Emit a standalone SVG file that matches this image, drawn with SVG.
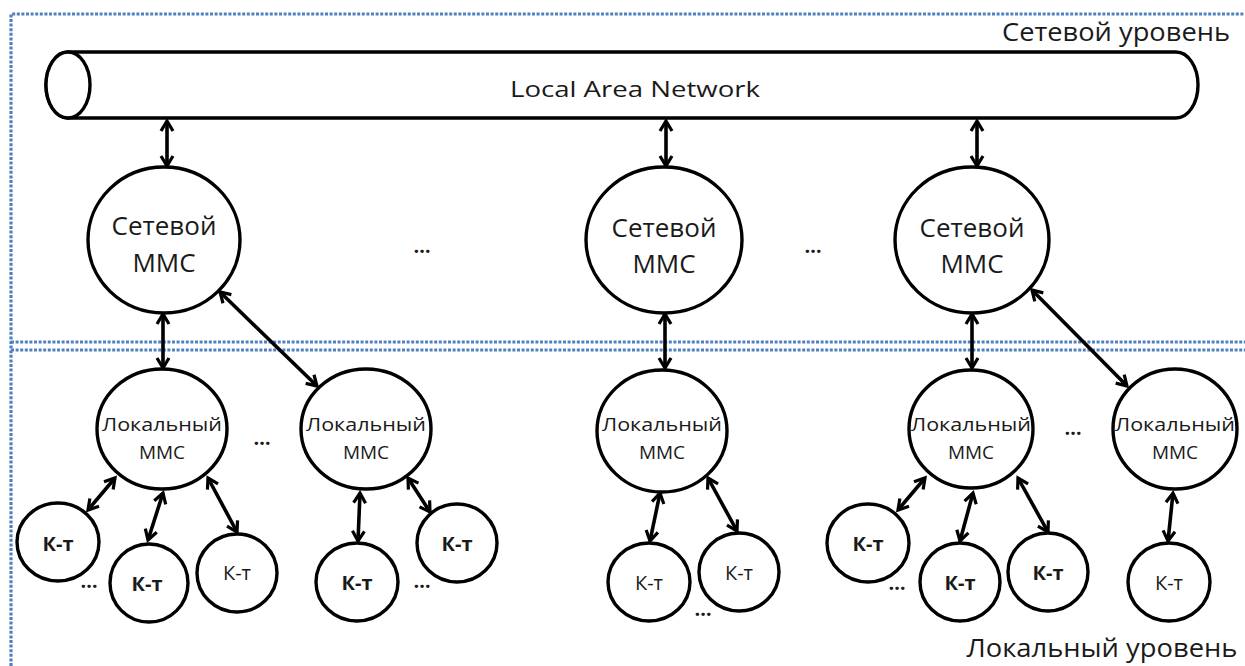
<svg xmlns="http://www.w3.org/2000/svg" width="1245" height="666" viewBox="0 0 1245 666">
  <style>
    .zone { fill: none; stroke: #4f81bd; stroke-width: 3.2; stroke-dasharray: 3 1.6; }
    .node { fill: #ffffff; stroke: #000000; stroke-width: 3.4; }
    .link { fill: none; stroke: #000000; stroke-width: 3.6; marker-start: url(#head); marker-end: url(#head); }
    text { font-family: "Open Sans", "Liberation Sans", sans-serif; fill: #1a1a1a; text-anchor: middle; dominant-baseline: central; }
    .lvl { font-size: 25px; }
    .lan { font-size: 22px; }
    .net { font-size: 26px; }
    .loc { font-size: 19px; }
    .kt { font-size: 20px; }
    .ktb { font-size: 20px; font-weight: bold; }
    .dots { font-size: 20px; font-weight: bold; }
  </style>
  <defs>
    <marker id="head" viewBox="0 0 16 16" refX="13" refY="8" markerWidth="16" markerHeight="16" markerUnits="userSpaceOnUse" orient="auto-start-reverse">
      <path d="M3 2 L13 8 L3 14" fill="none" stroke="#000" stroke-width="3.2" stroke-linejoin="miter"/>
    </marker>
  </defs>

  <rect width="1245" height="666" fill="#ffffff"/>

  <!-- level boundaries -->
  <g id="levels">
    <path class="zone" d="M11 666 V14 H1245"/>
    <path class="zone" d="M11 342 H1245"/>
    <path class="zone" d="M11 350 H1245"/>
    <text class="lvl" x="1116" y="31" textLength="228" lengthAdjust="spacingAndGlyphs">Сетевой уровень</text>
    <text class="lvl" x="1102" y="647" textLength="271" lengthAdjust="spacingAndGlyphs">Локальный уровень</text>
  </g>

  <!-- network bus -->
  <g id="lan">
    <path class="node" d="M68 52 H1176 A22 33 0 0 1 1176 118 H68 A22 33 0 0 1 68 52 Z"/>
    <ellipse class="node" cx="68" cy="85" rx="22" ry="33"/>
    <text class="lan" x="635" y="88" textLength="250" lengthAdjust="spacingAndGlyphs">Local Area Network</text>
  </g>

  <!-- connectors -->
  <g id="connectors">
    <line class="link" x1="167" y1="121" x2="167" y2="166"/>
    <line class="link" x1="666" y1="121" x2="666" y2="166"/>
    <line class="link" x1="977" y1="121" x2="977" y2="166"/>

    <line class="link" x1="163" y1="314" x2="163" y2="368"/>
    <line class="link" x1="220" y1="292" x2="317" y2="386"/>
    <line class="link" x1="665" y1="314" x2="665" y2="368"/>
    <line class="link" x1="972" y1="314" x2="972" y2="368"/>
    <line class="link" x1="1032" y1="290" x2="1127" y2="386"/>

    <line class="link" x1="115" y1="478" x2="88" y2="510"/>
    <line class="link" x1="163" y1="493" x2="148" y2="540"/>
    <line class="link" x1="208" y1="478" x2="237" y2="532"/>
    <line class="link" x1="360" y1="493" x2="358" y2="541"/>
    <line class="link" x1="408" y1="478" x2="430" y2="512"/>

    <line class="link" x1="660" y1="493" x2="650" y2="541"/>
    <line class="link" x1="708" y1="478" x2="737" y2="531"/>

    <line class="link" x1="925" y1="478" x2="898" y2="510"/>
    <line class="link" x1="973" y1="493" x2="960" y2="541"/>
    <line class="link" x1="1018" y1="478" x2="1048" y2="532"/>
    <line class="link" x1="1173" y1="493" x2="1168" y2="541"/>
  </g>

  <!-- network-level nodes -->
  <g id="net-1">
    <ellipse class="node" cx="164" cy="240" rx="76" ry="73"/>
    <text class="net" x="164" y="225">Сетевой</text>
    <text class="net" x="164" y="262">ММС</text>
  </g>
  <g id="net-2">
    <ellipse class="node" cx="664" cy="240" rx="78" ry="73"/>
    <text class="net" x="664" y="227">Сетевой</text>
    <text class="net" x="664" y="263">ММС</text>
  </g>
  <g id="net-3">
    <ellipse class="node" cx="972" cy="240" rx="77" ry="73"/>
    <text class="net" x="972" y="227">Сетевой</text>
    <text class="net" x="972" y="263">ММС</text>
  </g>
  <g id="net-gaps">
    <text class="dots" x="422" y="245">…</text>
    <text class="dots" x="813" y="245">…</text>
  </g>

  <!-- local-level nodes -->
  <g id="loc-1">
    <ellipse class="node" cx="162" cy="429" rx="65" ry="60"/>
    <text class="loc" x="162" y="424" textLength="120" lengthAdjust="spacingAndGlyphs">Локальный</text>
    <text class="loc" x="162" y="452">ММС</text>
  </g>
  <g id="loc-2">
    <ellipse class="node" cx="366" cy="429" rx="65" ry="60"/>
    <text class="loc" x="366" y="424" textLength="120" lengthAdjust="spacingAndGlyphs">Локальный</text>
    <text class="loc" x="366" y="452">ММС</text>
  </g>
  <g id="loc-3">
    <ellipse class="node" cx="662" cy="431" rx="65" ry="61"/>
    <text class="loc" x="662" y="424" textLength="120" lengthAdjust="spacingAndGlyphs">Локальный</text>
    <text class="loc" x="662" y="452">ММС</text>
  </g>
  <g id="loc-4">
    <ellipse class="node" cx="971" cy="429" rx="62" ry="59"/>
    <text class="loc" x="971" y="424" textLength="120" lengthAdjust="spacingAndGlyphs">Локальный</text>
    <text class="loc" x="971" y="452">ММС</text>
  </g>
  <g id="loc-5">
    <ellipse class="node" cx="1175" cy="429" rx="62" ry="60"/>
    <text class="loc" x="1175" y="424" textLength="120" lengthAdjust="spacingAndGlyphs">Локальный</text>
    <text class="loc" x="1175" y="452">ММС</text>
  </g>
  <g id="loc-gaps">
    <text class="dots" x="262" y="437">…</text>
    <text class="dots" x="1073" y="427">…</text>
  </g>

  <!-- terminals -->
  <g id="kt-1">
    <ellipse class="node" cx="58" cy="542" rx="41" ry="39"/>
    <text class="ktb" x="58" y="543">К-т</text>
  </g>
  <g id="kt-2">
    <ellipse class="node" cx="149" cy="583" rx="39" ry="39"/>
    <text class="ktb" x="147" y="583">К-т</text>
  </g>
  <g id="kt-3">
    <ellipse class="node" cx="237" cy="573" rx="40" ry="39"/>
    <text class="kt" x="237" y="572">К-т</text>
  </g>
  <g id="kt-4">
    <ellipse class="node" cx="357" cy="582" rx="41" ry="39"/>
    <text class="ktb" x="357" y="582">К-т</text>
  </g>
  <g id="kt-5">
    <ellipse class="node" cx="457" cy="543" rx="40" ry="39"/>
    <text class="ktb" x="457" y="543">К-т</text>
  </g>
  <g id="kt-6">
    <ellipse class="node" cx="649" cy="582" rx="41" ry="39"/>
    <text class="kt" x="649" y="582">К-т</text>
  </g>
  <g id="kt-7">
    <ellipse class="node" cx="739" cy="572" rx="40" ry="39"/>
    <text class="kt" x="739" y="572">К-т</text>
  </g>
  <g id="kt-8">
    <ellipse class="node" cx="868" cy="543" rx="41" ry="39"/>
    <text class="ktb" x="868" y="543">К-т</text>
  </g>
  <g id="kt-9">
    <ellipse class="node" cx="960" cy="582" rx="40" ry="39"/>
    <text class="ktb" x="960" y="582">К-т</text>
  </g>
  <g id="kt-10">
    <ellipse class="node" cx="1048" cy="572" rx="40" ry="39"/>
    <text class="ktb" x="1048" y="572">К-т</text>
  </g>
  <g id="kt-11">
    <ellipse class="node" cx="1169" cy="582" rx="41" ry="39"/>
    <text class="kt" x="1169" y="582">К-т</text>
  </g>
  <g id="kt-gaps">
    <text class="dots" x="89" y="580">…</text>
    <text class="dots" x="422" y="580">…</text>
    <text class="dots" x="703" y="608">…</text>
    <text class="dots" x="897" y="582">…</text>
  </g>
</svg>
